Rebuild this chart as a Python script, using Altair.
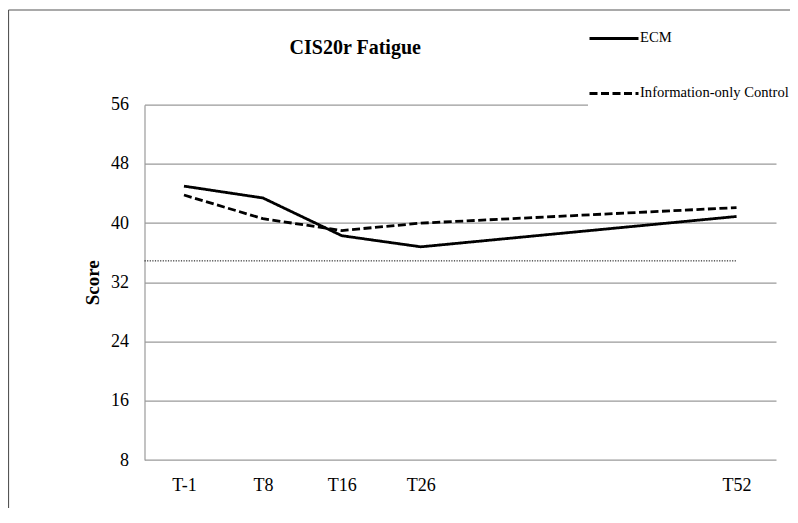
import altair as alt
import pandas as pd

# ---- data ----
slots = ["T-1", "T8", "T16", "T26", "", "", "", "T52"]   # category slots on the x axis (Excel-style)
timepoints = ["T-1", "T8", "T16", "T26", "T52"]
ecm = [45.0, 43.4, 38.3, 36.8, 40.9]
control = [43.8, 40.6, 39.0, 40.0, 42.1]
series = ["ECM", "Information-only Control"]
norm_value = 34.9
y_ticks = [8, 16, 24, 32, 40, 48, 56]

pos = [slots.index(t) for t in timepoints]
rows = []
for name, vals in zip(series, [ecm, control]):
    for t, p, v in zip(timepoints, pos, vals):
        rows.append({"time": t, "pos": p, "score": v, "group": name})
df = pd.DataFrame(rows)

ref_df = pd.DataFrame({"x": [-0.5], "x2": [slots.index("T52")], "y": [norm_value]})

FONT = "Liberation Serif, Times New Roman, serif"
W, H = 631.5, 355.3
PAD = {"left": 136.5, "top": 96.7, "right": 14, "bottom": 48}

label_js = "[" + ",".join("'" + s + "'" for s in slots) + "][datum.value]"

xscale = alt.Scale(domain=[-0.5, len(slots) - 0.5], nice=False, zero=False)
yscale = alt.Scale(domain=[y_ticks[0], y_ticks[-1]], nice=False, zero=False)

lines = alt.Chart(df).mark_line(color="black", strokeWidth=2.8).encode(
    x=alt.X("pos:Q", scale=xscale,
            axis=alt.Axis(values=pos, labelExpr=label_js, title=None, grid=False,
                          domain=False, ticks=False, labelPadding=16, labelFontSize=18,
                          labelFont=FONT, labelColor="black")),
    y=alt.Y("score:Q", scale=yscale,
            axis=alt.Axis(values=y_ticks, title="Score", grid=True, gridColor="#9a9a9a",
                          gridWidth=1.2, domain=True, domainColor="#9a9a9a", domainWidth=1.2,
                          ticks=False, labelPadding=16, labelFontSize=18, labelFont=FONT,
                          labelColor="black", titleFont=FONT, titleFontSize=19,
                          titleFontWeight="bold", titleColor="black", titlePadding=8.5)),
    strokeDash=alt.StrokeDash(
        "group:N",
        scale=alt.Scale(domain=series, range=[[1, 0], [8, 3.5]]),
        legend=alt.Legend(title=" ", titleOrient="bottom", titleFontSize=1, titlePadding=12,
                          orient="none", legendX=443.5, legendY=-92.3,
                          symbolType="stroke", symbolSize=2401, symbolStrokeWidth=3,
                          symbolStrokeColor="black", labelFont=FONT, labelFontSize=14.6,
                          labelColor="black", labelOffset=0, rowPadding=22, labelLimit=400,
                          fillColor="white", padding=0, zindex=1),
    ),
    detail="group:N",
)

ref = alt.Chart(ref_df).mark_rule(color="black", strokeWidth=1, strokeDash=[1.2, 1.4]).encode(
    x=alt.X("x:Q", scale=xscale),
    x2="x2:Q",
    y=alt.Y("y:Q", scale=yscale),
)

frame_df = pd.DataFrame({"k": [0]})
border_left = alt.Chart(frame_df).mark_rule(color="#555555", strokeWidth=1.2).encode(
    x=alt.value(-136), y=alt.value(-94.7), y2=alt.value(H + 48)
)
border_top = alt.Chart(frame_df).mark_rule(color="#555555", strokeWidth=1.2).encode(
    x=alt.value(-136), x2=alt.value(W + 14), y=alt.value(-94.7)
)

chart = alt.layer(ref, lines, border_left, border_top).properties(
    width=W, height=H,
    padding=PAD,
    background="white",
    autosize=alt.AutoSizeParams(type="none"),
    title=alt.TitleParams("CIS20r Fatigue", font=FONT, fontSize=20, fontWeight="bold",
                          color="black", anchor="middle", dx=-105, dy=64.6, offset=0,
                          frame="group", baseline="alphabetic"),
).configure_view(stroke=None)

chart.save("out.html", embed_options={"renderer": "svg", "actions": False})
